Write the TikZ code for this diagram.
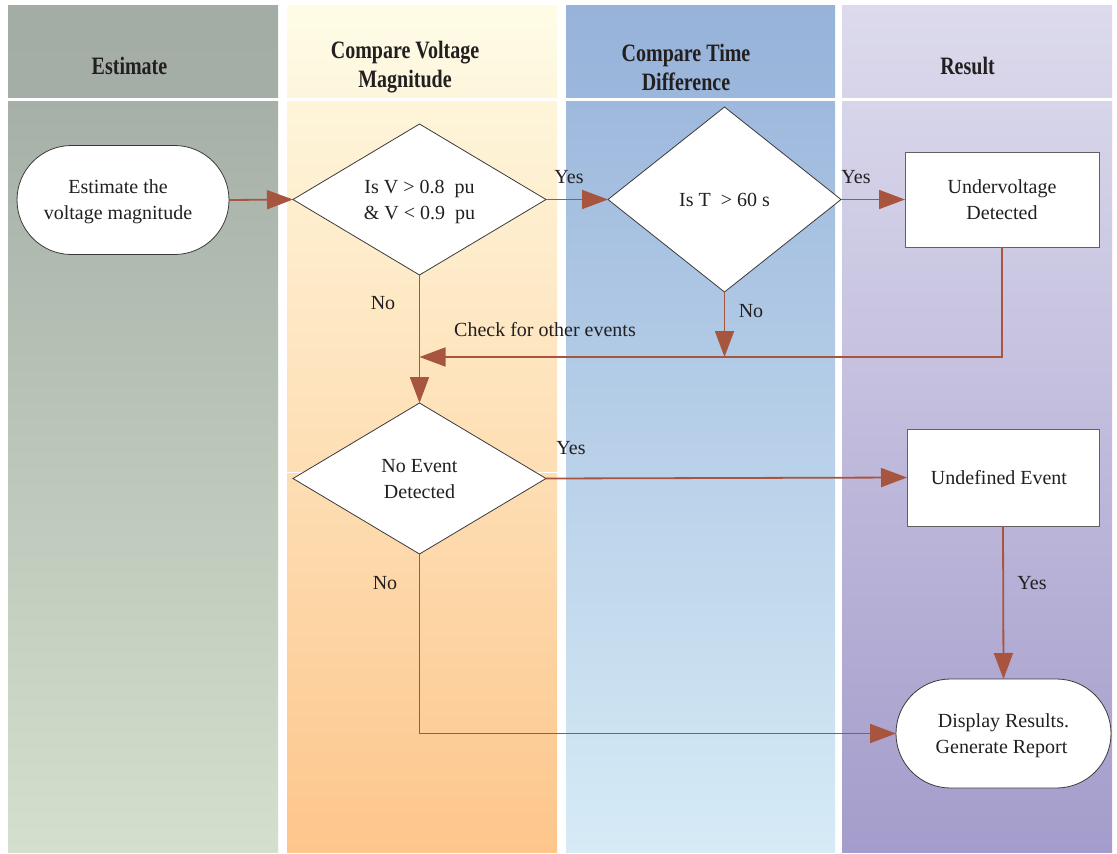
\documentclass[tikz,border=0pt]{standalone}
\usepackage{fontspec}
\setmainfont{Liberation Serif}
\newfontfamily\hdfont{Liberation Serif}[FakeStretch=0.8]
\usetikzlibrary{shapes.geometric,shapes.misc,arrows.meta}
\definecolor{txt}{HTML}{231F20}
\definecolor{arr}{HTML}{A8553F}
\definecolor{edge}{HTML}{3A3A3A}
\definecolor{hAt}{HTML}{A4ADA5}\definecolor{hAb}{HTML}{A4AEA6}
\definecolor{bAt}{HTML}{A6B0A8}\definecolor{bAb}{HTML}{D4DFCD}
\definecolor{hBt}{HTML}{FFFCE6}\definecolor{hBb}{HTML}{FDF6DD}
\definecolor{bBt}{HTML}{FEF5DA}\definecolor{bBb}{HTML}{FDC68C}
\definecolor{hCt}{HTML}{97B3D9}\definecolor{hCb}{HTML}{9CB7DC}
\definecolor{bCt}{HTML}{9EB9DD}\definecolor{bCb}{HTML}{D6EBF6}
\definecolor{hDt}{HTML}{DCDAEC}\definecolor{hDb}{HTML}{D7D4E9}
\definecolor{bDt}{HTML}{D7D5EA}\definecolor{bDb}{HTML}{A49CCB}
\begin{document}
\begin{tikzpicture}[x=1pt,y=-1pt,
  hd/.style={text=txt,align=center,font=\hdfont\bfseries\fontsize{25}{29}\selectfont},
  bodytext/.style={text=txt,align=center,font=\fontsize{20}{26}\selectfont},
  term/.style={bodytext,text depth=0pt,rounded rectangle,draw=edge,line width=0.8pt,fill=white,inner sep=0pt,outer sep=0pt},
  dia/.style={bodytext,text depth=0pt,diamond,draw=edge,line width=0.8pt,fill=white,inner sep=0pt,outer sep=0pt},
  boxnode/.style={bodytext,text depth=0pt,rectangle,draw=edge!80,line width=1pt,fill=white,inner sep=0pt,outer sep=0pt},
  lbl/.style={bodytext,inner sep=0pt},
  flow/.style={draw=arr,line width=1.8pt,-{Triangle[length=26pt,width=19pt]}}]
\useasboundingbox (0,0) rectangle (1117,854);
\fill[white] (0,0) rectangle (1117,854);
% lanes
\shade[top color=hAt,bottom color=hAb] (8,5) rectangle (278,97);
\shade[top color=bAt,bottom color=bAb] (8,101) rectangle (278,852);
\shade[top color=hBt,bottom color=hBb] (287,5) rectangle (557,97);
\shade[top color=bBt,bottom color=bBb] (287,101) rectangle (557,852);
\shade[top color=hCt,bottom color=hCb] (566,5) rectangle (835,97);
\shade[top color=bCt,bottom color=bCb] (566,101) rectangle (835,852);
\shade[top color=hDt,bottom color=hDb] (842,5) rectangle (1112,97);
\shade[top color=bDt,bottom color=bDb] (842,101) rectangle (1112,852);
\draw[white,line width=1pt] (287,472) -- (557,472);
% headers
\node[hd] (h1) at (129.5,66) {Estimate};
\node[hd] (h2) at (405,67.5) {Compare Voltage\\Magnitude};
\node[hd] (h3) at (686,67.5) {Compare Time\\Difference};
\node[hd] (h4) at (967.5,66) {Result};
% nodes
\node[term,minimum width=212pt,minimum height=109pt] (s) at (123,200) {Estimate the\hspace*{10pt}\\voltage magnitude\hspace*{10pt}};
\node[dia,minimum width=253pt,minimum height=151pt] (d1) at (419.5,199.5) {Is V > 0.8\ \ pu\\\& V < 0.9\ \ pu};
\node[dia,minimum width=233pt,minimum height=185pt] (d2) at (724.5,199.5) {Is T\ \ > 60 s};
\node[boxnode,minimum width=194pt,minimum height=95pt] (uv) at (1002,199.5) {Undervoltage\\Detected};
\node[dia,minimum width=253pt,minimum height=151pt] (d3) at (419.5,478.5) {No Event\\Detected};
\node[boxnode,minimum width=192pt,minimum height=97pt] (ue) at (1003,477.5) {Undefined Event\hspace*{8pt}};
\node[term,minimum width=215pt,minimum height=109pt] (e) at (1003.5,733.5) {Display Results.\\Generate Report\hspace*{4pt}};
\coordinate (m) at (419.5,357);
% connectors
\draw[flow] (s.east) -- (d1.west);
\draw[flow] (d1.east) -- (d2.west);
\draw[flow] (d2.east) -- (uv.west);
\draw[flow] (d1.south) -- (d3.north);
\draw[flow] (uv.south) |- (m);
\draw[flow] (d2.south) -- (d2.south |- m);
\draw[flow] (d3.east) -- (ue.west);
\draw[flow] (ue.south) -- (e.north);
\draw[flow] (d3.south) |- (e.west);
% labels
\node[lbl] (l1) at (569,177) {Yes};
\node[lbl] (l2) at (856,177) {Yes};
\node[lbl] (l3) at (383,303) {No};
\node[lbl] (l4) at (751,311) {No};
\node[lbl] (l5) at (545,330) {Check for other events};
\node[lbl] (l6) at (571,448) {Yes};
\node[lbl] (l7) at (1032,583) {Yes};
\node[lbl] (l8) at (385,583) {No};
\end{tikzpicture}
\end{document}
